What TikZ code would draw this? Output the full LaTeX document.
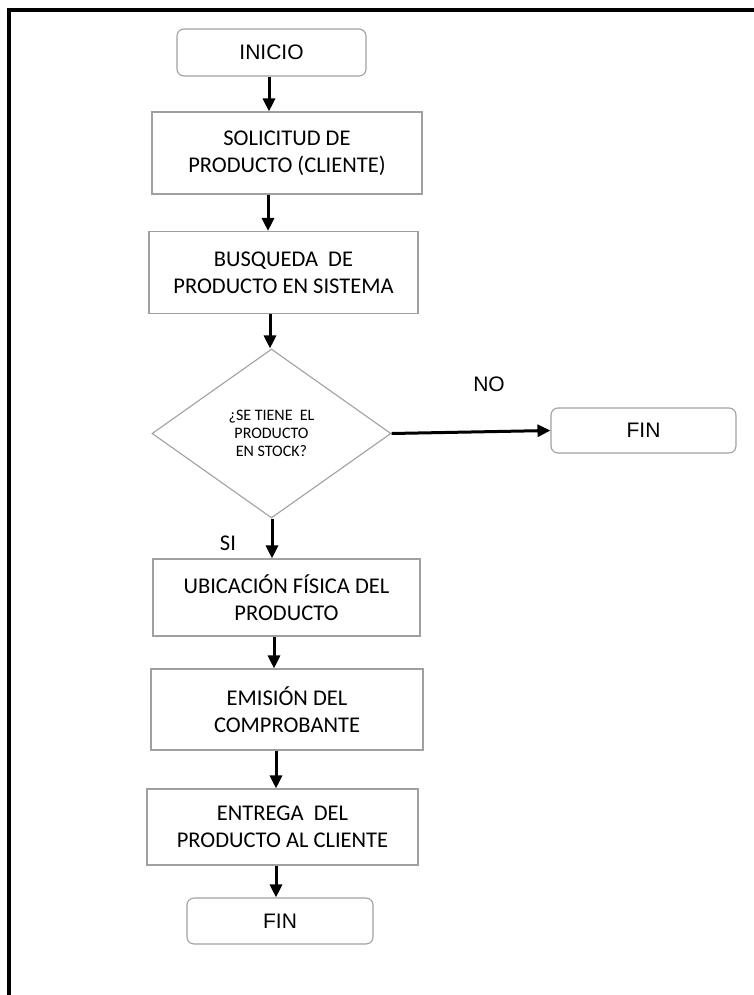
\documentclass[tikz,border=0pt]{standalone}
\usepackage{fontspec}
\setmainfont{Carlito}
\newfontfamily\arialfont{Liberation Sans}
\usetikzlibrary{shapes.geometric,arrows.meta}
\definecolor{bordegris}{RGB}{160,160,160}
\newcommand\cajafont{\fontsize{22.5}{27}\selectfont}
\newcommand\rombofont{\fontsize{16}{18}\selectfont}
\newcommand\termfont{\arialfont\fontsize{21}{25}\selectfont}

\begin{document}
\begin{tikzpicture}[x=1pt, y=-1pt, >={Triangle[length=13pt,width=12pt]},
	caja/.style={draw=bordegris, line width=1.1pt, align=center, inner sep=0pt, font=\cajafont},
	terminal/.style={caja, rounded corners=7pt, font=\termfont},
	rombo/.style={caja, diamond, font=\rombofont},
	flecha/.style={->, line width=3pt}]
	\useasboundingbox (0,0) rectangle (754,995);
	\draw[line width=3.5pt] (9,995)--(9,10)--(754,10);
	\node[terminal, minimum width=189pt, minimum height=47pt] (inicio) at (271.5,52.5) {INICIO};
	\node[caja, minimum width=270pt, minimum height=82pt] (sol) at (287,153) {SOLICITUD DE\\PRODUCTO (CLIENTE)};
	\node[caja, minimum width=269pt, minimum height=82pt] (bus) at (283.5,272.5) {BUSQUEDA \ DE\\PRODUCTO EN SISTEMA};
	\node[rombo, minimum width=239pt, minimum height=169pt] (dec) at (271.5,433.5) {¿SE TIENE \ EL\\PRODUCTO\\EN STOCK?};
	\node[terminal, minimum width=185pt, minimum height=45pt] (fin1) at (643.5,430.5) {FIN};
	\node[caja, minimum width=267pt, minimum height=77pt] (ubi) at (286.5,597.5) {UBICACIÓN FÍSICA DEL\\PRODUCTO};
	\node[caja, minimum width=272pt, minimum height=81pt] (emi) at (287,709.5) {EMISIÓN DEL\\COMPROBANTE};
	\node[caja, minimum width=271pt, minimum height=76pt] (ent) at (282.5,827) {ENTREGA \ DEL\\PRODUCTO AL CLIENTE};
	\node[terminal, minimum width=186pt, minimum height=46pt] (fin2) at (280,921) {FIN};
	\node[font=\termfont] (no) at (489,384) {NO};
	\node[font=\cajafont] (si) at (228,543) {SI};
	\foreach \a/\b/\x in {inicio/sol/269, sol/bus/268, bus/dec/270, dec/ubi/272, ubi/emi/274, emi/ent/276, ent/fin2/276}
		\draw[flecha] (\a.south -| \x,0) -- (\b.north -| \x,0);
	\draw[flecha] (dec.east) -- (fin1.west);
\end{tikzpicture}
\end{document}
